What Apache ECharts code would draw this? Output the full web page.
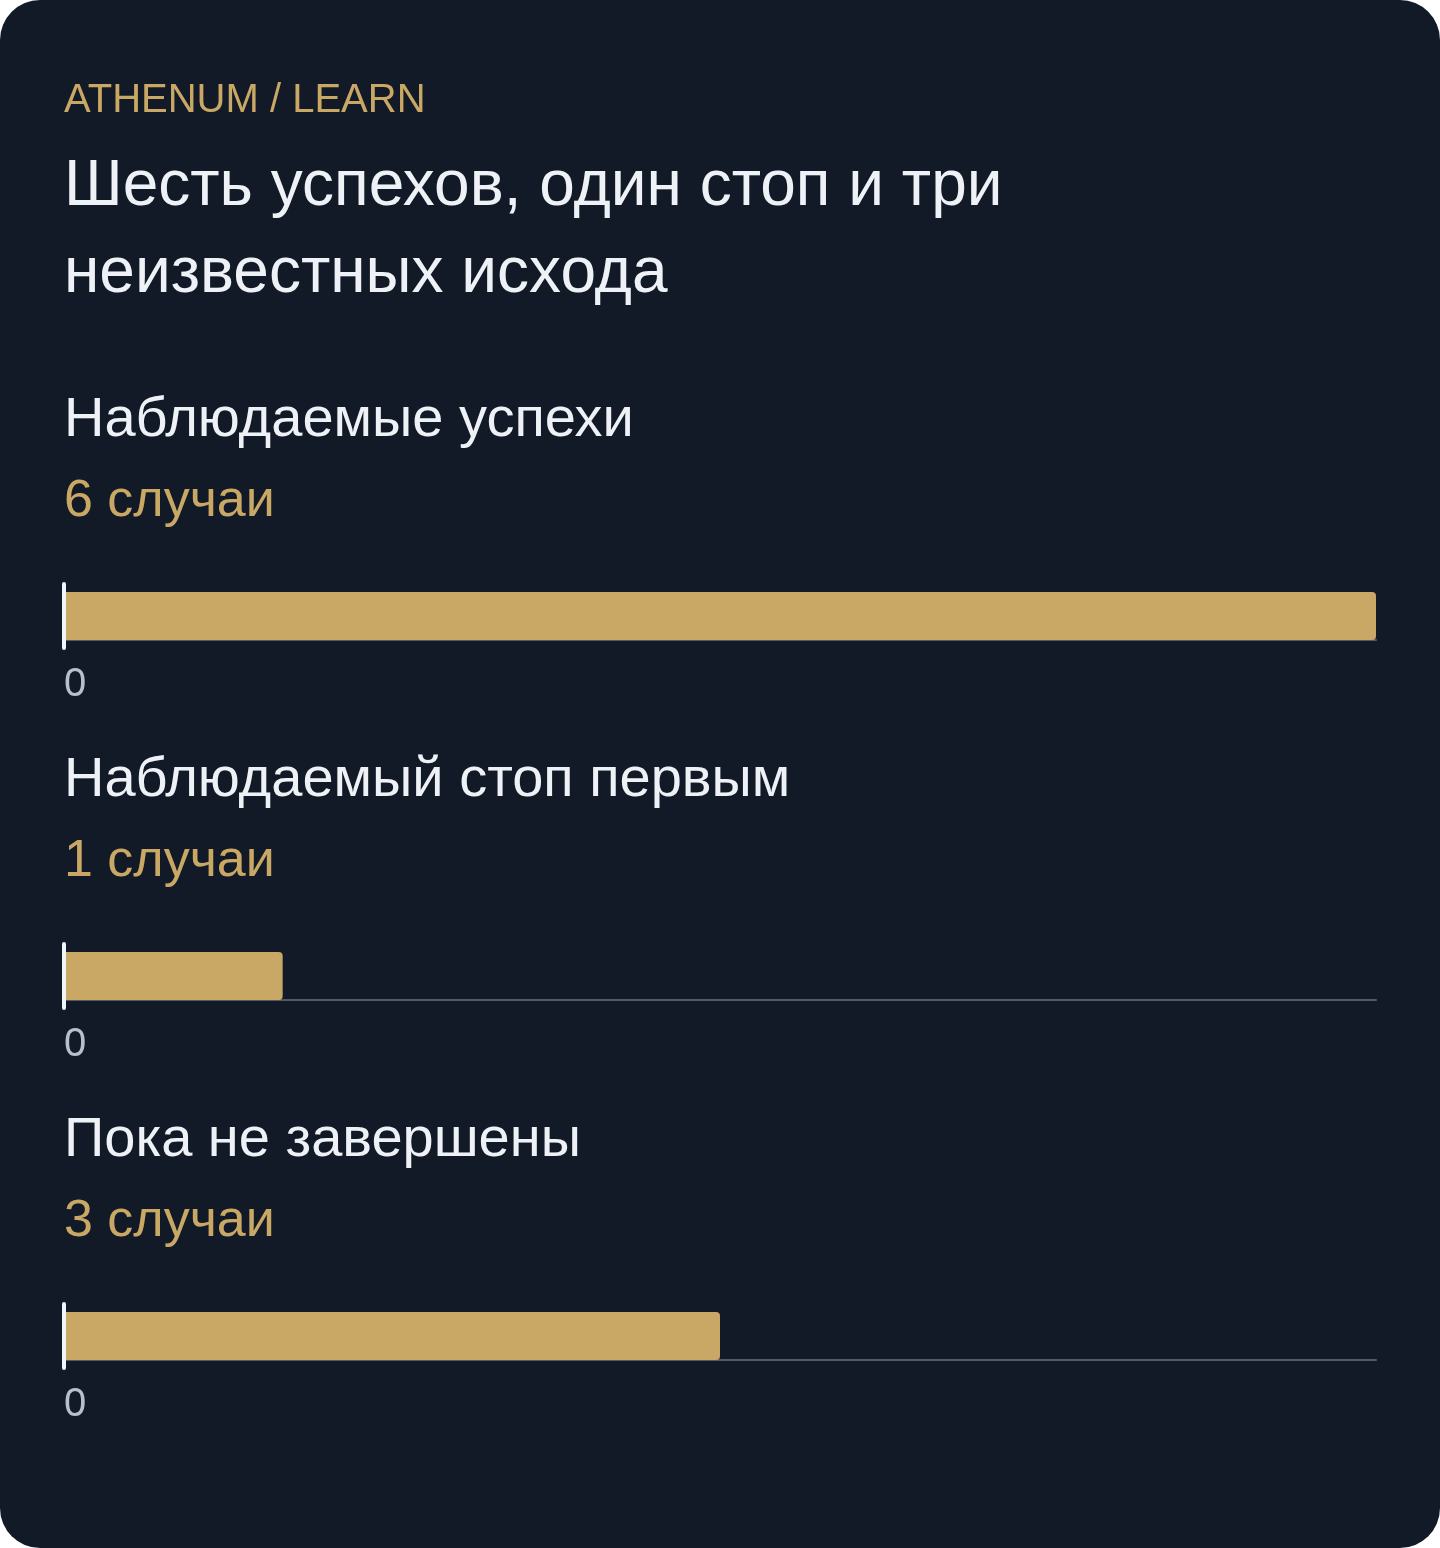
<!DOCTYPE html>
<html>
<head>
<meta charset="utf-8">
<script src="https://cdn.jsdelivr.net/npm/echarts@6/dist/echarts.min.js"></script>
<style>
  html, body { margin: 0; padding: 0; background: #ffffff; }
  #card { width: 1440px; height: 1548px; background: #131a27; border-radius: 40px; overflow: hidden; }
  #chart { width: 1440px; height: 1548px; }
</style>
</head>
<body>
<div id="card"><div id="chart"></div></div>
<script>
const eyebrow = 'ATHENUM / LEARN';
const titleLines = ['Шесть успехов, один стоп и три', 'неизвестных исхода'];
const categories = ['Наблюдаемые успехи', 'Наблюдаемый стоп первым', 'Пока не завершены'];
const values = [6, 1, 3];
const unitLabel = 'случаи';
const axisMin = 0;
const axisMax = 6;

const FONT = '"Liberation Sans", Arial, sans-serif';
const GOLD = '#c9a865';
const TEXT = '#eef2f7';
const panelStep = 360;
const gridTop0 = 584;

const chart = echarts.init(document.getElementById('chart'), null, { renderer: 'canvas' });

const graphic = [
  { type: 'text', x: 64, y: 101, style: { text: eyebrow, fill: GOLD, fontSize: 40, fontFamily: FONT, verticalAlign: 'middle' } },
  { type: 'text', x: 64, y: 187, style: { text: titleLines[0], fill: TEXT, fontSize: 64, fontFamily: FONT, verticalAlign: 'middle' } },
  { type: 'text', x: 64, y: 274, style: { text: titleLines[1], fill: TEXT, fontSize: 64, fontFamily: FONT, verticalAlign: 'middle' } }
];

const grids = [], xAxes = [], yAxes = [], series = [];
categories.forEach((cat, i) => {
  const off = i * panelStep;
  graphic.push({ type: 'text', x: 64, y: 421 + off, style: { text: cat, fill: TEXT, fontSize: 56, fontFamily: FONT, verticalAlign: 'middle' } });
  graphic.push({ type: 'text', x: 64, y: 502 + off, style: { text: values[i] + ' ' + unitLabel, fill: GOLD, fontSize: 52, fontFamily: FONT, verticalAlign: 'middle' } });
  grids.push({ left: 64, right: 64, top: gridTop0 + off, height: 64 });
  xAxes.push({
    gridIndex: i, type: 'value', min: axisMin, max: axisMax, interval: axisMax - axisMin,
    offset: -8, z: 0,
    axisLine: { show: true, lineStyle: { color: '#505a67', width: 2 } },
    axisTick: { show: false },
    splitLine: { show: false },
    axisLabel: {
      color: '#b6bfcb', fontSize: 40, fontFamily: FONT, align: 'left', margin: 25,
      formatter: v => (v === axisMin ? String(v) : '')
    }
  });
  yAxes.push({
    gridIndex: i, type: 'category', data: [cat], z: 5,
    axisLine: { show: true, lineStyle: { color: '#f1f5f9', width: 4 } },
    axisTick: { show: false },
    axisLabel: { show: false },
    splitLine: { show: false }
  });
  series.push({
    type: 'bar', xAxisIndex: i, yAxisIndex: i, data: [values[i]], z: 2,
    barWidth: 48, itemStyle: { color: GOLD, borderRadius: [0, 4, 4, 0] },
    silent: true, animation: false
  });
});

chart.setOption({
  backgroundColor: 'transparent',
  animation: false,
  textStyle: { fontFamily: FONT },
  graphic: graphic,
  grid: grids,
  xAxis: xAxes,
  yAxis: yAxes,
  series: series
});
</script>
</body>
</html>
